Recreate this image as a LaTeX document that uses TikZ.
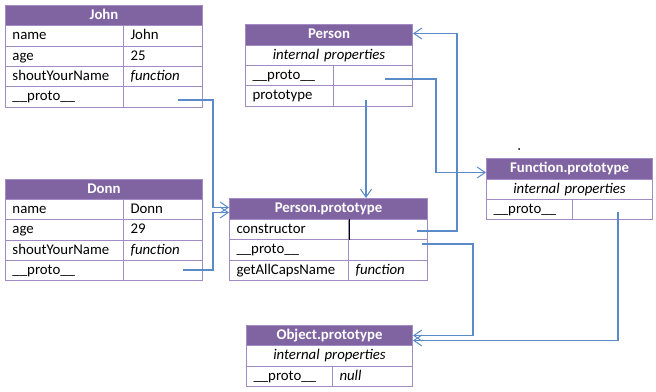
\documentclass[tikz,border=0pt]{standalone}
\usepackage{fontspec}
\setmainfont{Carlito}
\usetikzlibrary{arrows.meta}
\definecolor{hdr}{HTML}{8064A2}
\definecolor{bd}{HTML}{A18BC2}
\definecolor{ln}{HTML}{5A8AC8}
\tikzset{
  cellbox/.style={draw=bd,line width=1pt,inner xsep=7pt,inner ysep=0pt,anchor=north west,
    font=\fontsize{14.8}{16}\selectfont,text=black,text height=10.5pt,text depth=3.5pt},
  hdrbox/.style={fill=hdr,text=white,font=\fontsize{14.8}{16}\selectfont\bfseries,align=center},
  ctr/.style={align=center,font=\fontsize{14.8}{16}\selectfont\itshape},
  lft/.style={align=left},
  conn/.style={draw=ln,line width=1.2pt,-{Straight Barb[length=8pt,width=11pt,line width=1pt]}},
}
% name, x, y, w, h, style, text
\newcommand\tcell[7]{%
  \pgfmathsetmacro\tw{#4-14}%
  \node[cellbox,#6,minimum width=#4pt,minimum height=#5pt,text width=\tw pt] (#1) at (#2pt,-#3pt) {#7};}
\begin{document}
\begin{tikzpicture}[x=1pt,y=1pt]
\useasboundingbox (0,0) rectangle (656,-391);
% John
\tcell{jh}{5}{5}{197}{20}{hdrbox}{John}
\tcell{jn}{5}{25}{118}{21}{lft}{name}
\tcell{jnv}{123}{25}{79}{21}{lft}{John}
\tcell{ja}{5}{46}{118}{20}{lft}{age}
\tcell{jav}{123}{46}{79}{20}{lft}{25}
\tcell{js}{5}{66}{118}{20}{lft}{shoutYourName}
\tcell{jsv}{123}{66}{79}{20}{lft}{\itshape function}
\tcell{jp}{5}{86}{118}{21}{lft}{\_\_proto\_\_}
\tcell{jpv}{123}{86}{79}{21}{lft}{}
% Donn
\tcell{dh}{5}{179}{197}{20}{hdrbox}{Donn}
\tcell{dn}{5}{199}{118}{20}{lft}{name}
\tcell{dnv}{123}{199}{79}{20}{lft}{Donn}
\tcell{da}{5}{219}{118}{21}{lft}{age}
\tcell{dav}{123}{219}{79}{21}{lft}{29}
\tcell{ds}{5}{240}{118}{20}{lft}{shoutYourName}
\tcell{dsv}{123}{240}{79}{20}{lft}{\itshape function}
\tcell{dp}{5}{260}{118}{20}{lft}{\_\_proto\_\_}
\tcell{dpv}{123}{260}{79}{20}{lft}{}
% Person
\tcell{ph}{245}{24}{167}{21}{hdrbox}{Person}
\tcell{pi}{245}{45}{167}{20}{ctr}{internal properties}
\tcell{pp}{245}{65}{88}{20}{lft}{\_\_proto\_\_}
\tcell{ppv}{333}{65}{79}{20}{lft}{}
\tcell{pt}{245}{85}{88}{21}{lft}{prototype}
\tcell{ptv}{333}{85}{79}{21}{lft}{}
% Person.prototype
\tcell{qh}{229}{198}{198}{21}{hdrbox}{Person.prototype}
\tcell{qc}{229}{219}{119}{20}{lft}{constructor}
\tcell{qcv}{348}{219}{79}{20}{lft}{}
\tcell{qp}{229}{239}{119}{21}{lft}{\_\_proto\_\_}
\tcell{qpv}{348}{239}{79}{21}{lft}{}
\tcell{qg}{229}{260}{119}{20}{lft}{getAllCapsName}
\tcell{qgv}{348}{260}{79}{20}{lft}{\itshape function}
\draw[black,line width=1pt] (qc.north east) -- (qc.south east);
% Function.prototype
\tcell{fh}{486}{158}{166}{21}{hdrbox}{Function.prototype}
\tcell{fi}{486}{179}{166}{20}{ctr}{internal properties}
\tcell{fp}{486}{199}{86}{20}{lft}{\_\_proto\_\_}
\tcell{fpv}{572}{199}{80}{20}{lft}{}
% Object.prototype
\tcell{oh}{246}{325}{166}{20}{hdrbox}{Object.prototype}
\tcell{oi}{246}{345}{166}{21}{ctr}{internal properties}
\tcell{op}{246}{366}{86}{20}{lft}{\_\_proto\_\_}
\tcell{opv}{332}{366}{80}{20}{lft}{\itshape null}
% connector start points
\coordinate (s1) at (178,-100);
\coordinate (s2) at (183,-270);
\coordinate (s3) at (385,-79);
\coordinate (s4) at (366,-100);
\coordinate (s5) at (417,-231);
\coordinate (s6) at (422,-244);
\coordinate (s7) at (618,-212);
% connectors
\draw[conn] (s1) -- (213,-100) |- ([yshift=1.5pt]qh.west);
\draw[conn] (s2) -- (213,-270) |- ([yshift=-3.5pt]qh.west);
\draw[conn] (s3) -- (436,-79) |- ([yshift=-3.5pt]fh.west);
\draw[conn] (s4) -- (s4 |- qh.north);
\draw[conn] (s5) -- (457,-231) |- ([yshift=1.5pt]ph.east);
\draw[conn] (s6) -- (473,-244) |- (oh.east);
\draw[conn] (s7) |- ([yshift=-5pt]oh.east);
\fill (519,-149) circle (1pt);
\end{tikzpicture}
\end{document}
